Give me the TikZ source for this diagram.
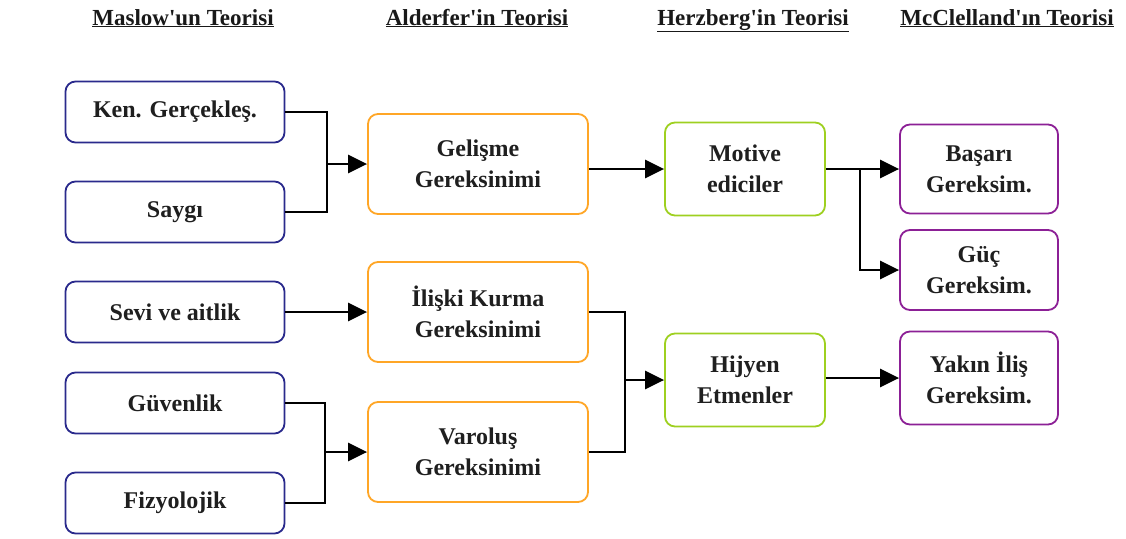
\documentclass[tikz,border=0pt]{standalone}
\usepackage{fontspec}
\setmainfont{Liberation Serif}
% plain apostrophes in the headings: a family without TeX ligature mapping
\newfontfamily\headfont{Liberation Serif}
\usetikzlibrary{arrows.meta}
\definecolor{maslowblue}{RGB}{42,42,140}
\definecolor{alderorange}{RGB}{255,166,38}
\definecolor{herzgreen}{RGB}{158,208,32}
\definecolor{mcpurple}{RGB}{140,32,150}
\begin{document}
\begin{tikzpicture}[x=1pt,y=-1pt,
  box/.style={draw, line width=1.8pt, rounded corners=10pt, fill=white,
    align=center, inner sep=0pt, text=black!88,
    font=\bfseries\fontsize{24}{31}\selectfont},
  maslow/.style={box, draw=maslowblue, minimum width=219pt, minimum height=61pt},
  alder/.style={box, draw=alderorange, minimum width=220pt, minimum height=100pt},
  herz/.style={box, draw=herzgreen, minimum width=160pt, minimum height=93pt},
  mccl/.style={box, draw=mcpurple, minimum width=158pt},
  heading/.style={anchor=base, inner sep=0pt, text=black!90,
    font=\headfont\bfseries\fontsize{23}{25}\selectfont},
  link/.style={line width=2.5pt, line join=miter},
  conn/.style={link, -{Triangle[length=19pt,width=18pt]}}
]
\useasboundingbox (0,0) rectangle (1126,538);

% column headings
\node[heading] (hmaslow) at (183,25) {\underline{Maslow'un Teorisi}};
\node[heading] (halder)  at (477,25) {\underline{Alderfer'in Teorisi}};
\node[heading] (hherz)   at (753,25) {\underline{Herzberg'in Teorisi}};
\node[heading] (hmccl)   at (1007,25) {\underline{McClelland'ın Teorisi}};

% Maslow
\node[maslow] (ken)    at (175,112) {Ken. Gerçekleş.};
\node[maslow] (saygi)  at (175,212) {Saygı};
\node[maslow] (sevi)   at (175,312) {Sevi ve aitlik};
\node[maslow] (guven)  at (175,403) {Güvenlik};
\node[maslow] (fizyo)  at (175,503) {Fizyolojik};

% Alderfer
\node[alder] (gelisme) at (478,164) {Gelişme\\Gereksinimi};
\node[alder] (iliski)  at (478,312) {İlişki Kurma\\Gereksinimi};
\node[alder] (varolus) at (478,452) {Varoluş\\Gereksinimi};

% Herzberg
\node[herz] (motive) at (745,169) {Motive\\ediciler};
\node[herz] (hijyen) at (745,380) {Hijyen\\Etmenler};

% McClelland
\node[mccl, minimum height=89pt] (basari) at (979,169) {Başarı\\Gereksim.};
\node[mccl, minimum height=80pt] (guc)    at (979,270) {Güç\\Gereksim.};
\node[mccl, minimum height=93pt] (yakin)  at (979,378) {Yakın İliş\\Gereksim.};

% junction points
\coordinate (j1) at (327,164);
\coordinate (j2) at (325,452);
\coordinate (j3) at (625,380);
\coordinate (j4) at (860,169);

% Maslow -> Alderfer
\draw[link] (ken.east) -| (j1) |- (saygi.east);
\draw[conn] (j1) -- (gelisme.west);
\draw[conn] (sevi.east) -- (iliski.west);
\draw[link] (guven.east) -| (j2) |- (fizyo.east);
\draw[conn] (j2) -- (varolus.west);

% Alderfer -> Herzberg
\draw[conn] (gelisme.east |- motive.west) -- (motive.west);
\draw[link] (iliski.east) -| (j3) |- (varolus.east);
\draw[conn] (j3) -- (hijyen.west);

% Herzberg -> McClelland
\draw[conn] (motive.east) -- (basari.west);
\draw[conn] (j4) |- (guc.west);
\draw[conn] (hijyen.east |- yakin.west) -- (yakin.west);
\end{tikzpicture}
\end{document}
